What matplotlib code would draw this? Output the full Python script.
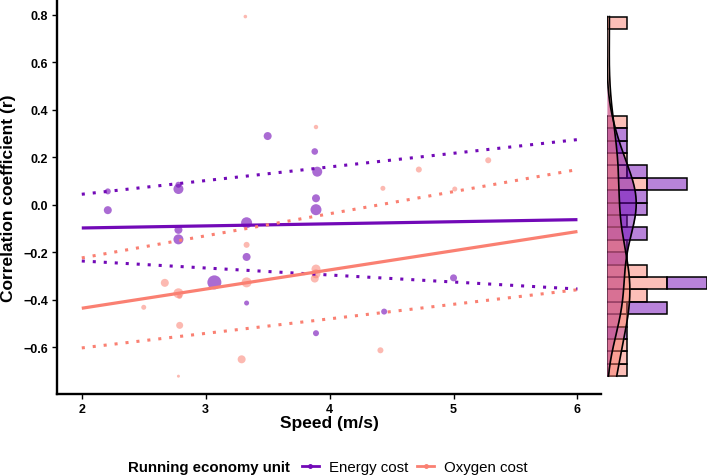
import numpy as np
import matplotlib.pyplot as plt
from matplotlib.lines import Line2D
from matplotlib.colors import to_rgba

plt.rcParams['font.family'] = ['Liberation Sans', 'DejaVu Sans']

purple = '#7209b7'
salmon = '#fa8072'

# Energy cost studies: speed (m/s), correlation (r), point weight
energy_speed = [3.50, 3.88, 3.90, 3.89, 3.89, 2.21, 2.21, 2.78, 2.78, 2.78,
                2.78, 3.33, 3.33, 3.07, 3.33, 3.89, 5.00, 4.44]
energy_r = [0.29, 0.225, 0.14, 0.028, -0.02, 0.057, -0.022, 0.085, 0.067, -0.105,
            -0.145, -0.075, -0.219, -0.326, -0.413, -0.54, -0.307, -0.449]
energy_w = [4, 3.3, 5, 4, 5.5, 3, 4, 3, 5, 4, 5, 5.5, 4, 7, 2.5, 3, 3.5, 3]

# Oxygen cost studies
oxygen_speed = [3.32, 3.89, 5.28, 4.72, 4.43, 5.01, 3.33, 2.67, 3.33, 2.78,
                3.89, 3.89, 3.88, 2.79, 2.50, 2.79, 3.29, 2.78, 4.41]
oxygen_r = [0.793, 0.328, 0.188, 0.149, 0.070, 0.067, -0.168, -0.328, -0.326, -0.372,
            -0.27, -0.29, -0.31, -0.385, -0.431, -0.507, -0.65, -0.721, -0.612]
oxygen_w = [1.8, 2.2, 3, 3, 2.5, 2.5, 3, 4, 5, 5, 4.5, 4.5, 4, 2.5, 2.5, 3.5, 4, 1.5, 3]

# fitted lines and intervals at the ends of the speed range
fit_speed = [2, 6]
energy_fit = [-0.097, -0.062]
energy_lo = [-0.236, -0.354]
energy_hi = [0.045, 0.275]
oxygen_fit = [-0.435, -0.112]
oxygen_lo = [-0.602, -0.357]
oxygen_hi = [-0.223, 0.149]

W, H = 707, 477
fig = plt.figure(figsize=(W / 100, H / 100), dpi=100)

ylim = (-0.796, 0.867)
ax = fig.add_axes([57 / W, 1 - 395 / H, 544 / W, 395 / H])

ax.scatter(oxygen_speed, oxygen_r, s=[(2 * w / 1.389) ** 2 for w in oxygen_w],
           color=salmon, alpha=0.55, edgecolors='none', zorder=2)
ax.scatter(energy_speed, energy_r, s=[(2 * w / 1.389) ** 2 for w in energy_w],
           color=purple, alpha=0.6, edgecolors='none', zorder=2)

dots = (0, (1, 2.6))
for col, fit, lo, hi in [(purple, energy_fit, energy_lo, energy_hi),
                         (salmon, oxygen_fit, oxygen_lo, oxygen_hi)]:
    ax.plot(fit_speed, fit, color=col, lw=2.3, solid_capstyle='butt', zorder=3)
    ax.plot(fit_speed, lo, color=col, lw=2.2, linestyle=dots, dash_capstyle='butt', zorder=3)
    ax.plot(fit_speed, hi, color=col, lw=2.2, linestyle=dots, dash_capstyle='butt', zorder=3)

ax.set_xlim(1.80, 6.19)
ax.set_ylim(*ylim)
ax.set_xticks([2, 3, 4, 5, 6])
ax.set_yticks([-0.6, -0.4, -0.2, 0.0, 0.2, 0.4, 0.6, 0.8])
ax.set_yticklabels(['\u22120.6', '\u22120.4', '\u22120.2', '0.0', '0.2', '0.4', '0.6', '0.8'])
for s in ['top', 'right']:
    ax.spines[s].set_visible(False)
for s in ['left', 'bottom']:
    ax.spines[s].set_linewidth(1.7)
ax.tick_params(length=3.5, width=1, labelsize=9, pad=3, colors='black')
for lab in ax.get_xticklabels() + ax.get_yticklabels():
    lab.set_fontweight('bold')

fig.text(329 / W, 1 - 424 / H, 'Speed (m/s)', ha='center', va='center',
         fontsize=12.5, fontweight='bold')
fig.text(9 / W, 1 - 198 / H, 'Correlation coefficient (r)', ha='center', va='center',
         rotation=90, fontsize=12.5, fontweight='bold')

# marginal histogram + densities
all_r = np.array(energy_r + oxygen_r)
rng = (all_r.min(), all_r.max())
ox_counts, edges = np.histogram(oxygen_r, bins=29, range=rng)
en_counts, _ = np.histogram(energy_r, bins=29, range=rng)
binw = edges[1] - edges[0]
centers = (edges[:-1] + edges[1:]) / 2

axh = fig.add_axes([607 / W, 1 - 395 / H, 100 / W, 395 / H])
axh.set_ylim(*ylim)
axh.set_xlim(0, 100 / 19.9)
axh.axis('off')

m = ox_counts > 0
axh.barh(centers[m], ox_counts[m], height=binw, left=0,
         facecolor=to_rgba(salmon, 0.5), edgecolor='black', linewidth=1.1, zorder=1)
m = en_counts > 0
axh.barh(centers[m], en_counts[m], height=binw, left=ox_counts[m],
         facecolor=to_rgba(purple, 0.5), edgecolor='black', linewidth=1.1, zorder=1)


def kde(vals, grid):
    v = np.asarray(vals)
    q75, q25 = np.percentile(v, [75, 25])
    bw = 0.9 * min(v.std(ddof=1), (q75 - q25) / 1.34) * len(v) ** -0.2
    z = (grid[:, None] - v[None, :]) / bw
    return np.exp(-0.5 * z ** 2).sum(axis=1) / (len(v) * bw * np.sqrt(2 * np.pi))


grid = np.linspace(rng[0], rng[1], 300)
for vals, col in [(energy_r, purple), (oxygen_r, salmon)]:
    d = kde(vals, grid) * len(vals) * binw
    axh.fill_betweenx(grid, 0, d, color=col, alpha=0.5, lw=0, zorder=2)
for vals in [energy_r, oxygen_r]:
    d = kde(vals, grid) * len(vals) * binw
    axh.plot(d, grid, color='black', lw=1.2, zorder=3)

# legend
fig.text(128 / W, 1 - 468 / H, 'Running economy unit', ha='left', va='center',
         fontsize=10.8, fontweight='bold')
handles = [Line2D([], [], color=purple, lw=2, marker='o', markersize=2.5),
           Line2D([], [], color=salmon, lw=2, marker='o', markersize=2.5)]
fig.legend(handles, ['Energy cost', 'Oxygen cost'], loc='center left',
           bbox_to_anchor=(302 / W, 1 - 468 / H), ncol=2, frameon=False,
           fontsize=10.8, handlelength=1.1, handletextpad=0.7, columnspacing=0.6,
           borderaxespad=0, borderpad=0)

fig.savefig('out.png', dpi=100, facecolor='white')
